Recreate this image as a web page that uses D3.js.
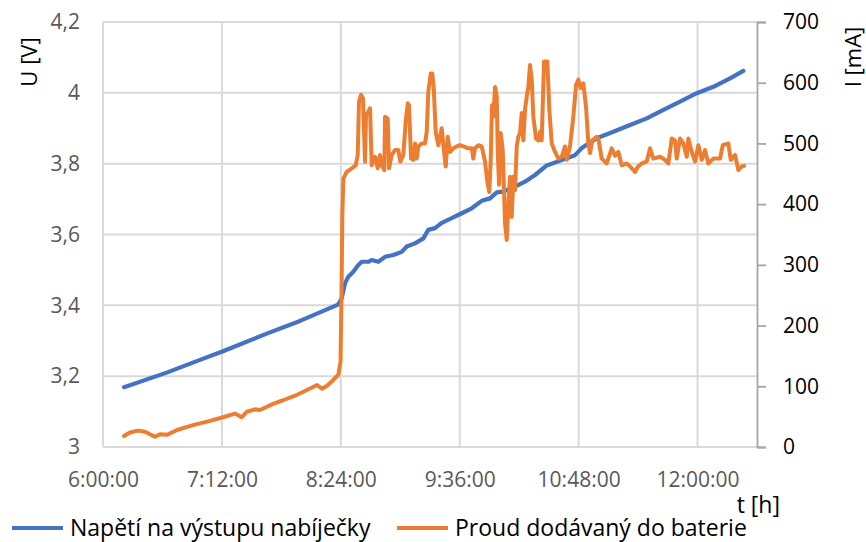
<!DOCTYPE html>
<html>
<head>
<meta charset="utf-8">
<script src="https://cdn.jsdelivr.net/npm/d3@7"></script>
<style>
  body { margin: 0; background: #fff; }
  svg text { font-family: "Open Sans", sans-serif; }
</style>
</head>
<body>
<svg id="chart" width="866" height="542"></svg>
<script>
// ---- data -------------------------------------------------------------
const xDomain = ["6:00:00", "12:36:00"];
const xTicks = ["6:00:00", "7:12:00", "8:24:00", "9:36:00", "10:48:00", "12:00:00"];
const uTicks = [3, 3.2, 3.4, 3.6, 3.8, 4, 4.2];
const iTicks = [0, 100, 200, 300, 400, 500, 600, 700];
const seriesNames = ["Napětí na výstupu nabíječky", "Proud dodávaný do baterie"];

// charger output voltage [V]
const voltTime = [
  "6:12:43","6:38:34","6:58:44","7:11:53","7:39:08","7:59:17","8:22:18","8:24:25",
  "8:26:32","8:28:33","8:31:34","8:34:36","8:36:40","8:40:39","8:42:43","8:46:43",
  "8:50:46","8:55:47","9:00:53","9:03:54","9:08:56","9:13:58","9:16:59","9:21:02",
  "9:25:06","9:31:10","9:37:13","9:43:16","9:49:19","9:54:21","9:58:25","10:02:24",
  "10:09:29","10:15:32","10:21:36","10:28:41","10:37:46","10:45:49","10:49:53","10:58:58",
  "11:09:01","11:19:07","11:29:14","11:39:18","11:49:24","11:59:31","12:09:34","12:19:41",
  "12:27:44"
];
const voltValue = [
  3.169,3.210,3.246,3.269,3.320,3.356,3.402,3.418,
  3.462,3.481,3.495,3.514,3.523,3.523,3.528,3.523,
  3.537,3.542,3.551,3.566,3.575,3.589,3.613,3.618,
  3.633,3.646,3.660,3.674,3.695,3.702,3.719,3.721,
  3.735,3.749,3.768,3.795,3.810,3.824,3.844,3.872,
  3.890,3.909,3.928,3.952,3.975,3.999,4.017,4.041,
  4.062
];

// charging current into the battery [mA]
const currTime = [
  "6:12:43","6:16:21","6:21:12","6:25:26","6:31:29","6:34:31","6:38:45","6:44:49",
  "6:54:30","7:04:48","7:12:40","7:19:56","7:23:59","7:27:01","7:32:03","7:35:04",
  "7:42:57","7:49:00","7:57:29","8:03:32","8:09:35","8:12:37","8:15:39","8:19:17",
  "8:22:29","8:23:49","8:24:25","8:24:55","8:25:31","8:27:34","8:30:36","8:33:01",
  "8:34:14","8:35:01","8:36:14","8:37:26","8:38:39","8:39:15","8:40:39","8:41:41",
  "8:42:43","8:44:43","8:46:21","8:47:44","8:48:46","8:50:20","8:50:46","8:52:24",
  "8:53:11","8:54:49","8:56:49","8:58:49","9:00:02","9:01:51","9:03:18","9:04:31",
  "9:05:18","9:06:31","9:07:54","9:08:56","9:09:58","9:10:56","9:12:59","9:14:59",
  "9:16:01","9:16:59","9:18:26","9:19:25","9:20:15","9:21:28","9:23:02","9:25:06",
  "9:26:04","9:27:31","9:28:44","9:30:08","9:32:07","9:34:11","9:36:11","9:38:11",
  "9:41:13","9:43:16","9:44:14","9:45:16","9:47:16","9:49:19","9:51:19","9:52:43",
  "9:53:56","9:54:46","9:55:34","9:56:21","9:57:23","9:58:25","9:59:01","9:59:48",
  "10:00:50","10:02:02","10:03:26","10:04:28","10:05:26","10:06:28","10:07:29","10:08:28",
  "10:09:29","10:10:31","10:11:29","10:12:31","10:13:32","10:14:31","10:15:32","10:16:34",
  "10:17:32","10:18:34","10:19:36","10:20:34","10:22:12","10:23:36","10:24:38","10:25:39",
  "10:27:03","10:29:03","10:30:16","10:31:43","10:33:43","10:35:43","10:37:46","10:39:46",
  "10:40:47","10:42:47","10:44:47","10:46:26","10:47:49","10:49:16","10:50:50","10:52:29",
  "10:53:53","10:54:54","10:56:17","10:58:58","10:59:55","11:01:59","11:05:01","11:08:02",
  "11:10:02","11:12:02","11:14:06","11:17:08","11:19:07","11:22:09","11:23:58","11:26:13",
  "11:29:14","11:31:14","11:33:14","11:37:17","11:40:19","11:42:19","11:44:23","11:46:22",
  "11:47:24","11:49:24","11:51:24","11:53:28","11:54:26","11:56:29","11:58:29","12:00:29",
  "12:02:33","12:04:32","12:06:32","12:09:34","12:13:37","12:15:16","12:18:39","12:20:06",
  "12:22:43","12:24:43","12:26:46","12:28:10"
];
const currValue = [
  18,24,27,25,17,21,20,28,
  36,43,49,55,49,58,62,61,
  71,77,86,94,102,96,101,110,
  119,140,250,380,442,453,459,464,
  481,569,580,574,470,547,552,558,
  464,478,459,481,464,456,544,541,
  459,481,489,489,470,481,536,566,
  563,475,473,500,475,495,500,500,
  519,585,615,615,591,519,497,525,
  497,462,511,486,492,495,497,495,
  492,492,475,492,497,495,470,437,
  420,473,563,544,593,577,489,432,
  517,489,368,341,400,445,379,445,
  423,495,511,517,550,505,555,577,
  593,629,605,544,508,505,519,505,
  635,635,555,500,486,475,478,495,
  473,495,544,596,605,591,599,560,
  500,484,505,511,508,475,467,492,
  480,486,464,467,462,453,462,467,
  470,492,475,478,473,467,508,505,
  475,508,500,478,508,486,470,497,
  473,489,467,475,475,497,500,473,
  481,456,462,463
];

// ---- helpers ----------------------------------------------------------
const toMin = s => { const p = s.split(":").map(Number); return p[0] * 60 + p[1] + (p[2] || 0) / 60; };
const fmtComma = d => (Math.round(d * 10) / 10).toString().replace(".", ",");

const colors = ["#4472C4", "#ED7D31"];
const plot = { left: 103, right: 757, top: 22, bottom: 447 };

const svg = d3.select("#chart");

const x = d3.scaleLinear().domain(xDomain.map(toMin)).range([plot.left, plot.right]);
const yU = d3.scaleLinear().domain([3, 4.2]).range([plot.bottom, plot.top]);
const yI = d3.scaleLinear().domain([0, 700]).range([plot.bottom, plot.top]);

// ---- gridlines ----------------------------------------------------------
const grid = svg.append("g").attr("stroke", "#d9d9d9").attr("stroke-width", 2);
grid.selectAll("line.h").data(uTicks).join("line")
  .attr("x1", plot.left).attr("x2", plot.right)
  .attr("y1", d => yU(d)).attr("y2", d => yU(d));
grid.selectAll("line.v").data(xTicks).join("line")
  .attr("x1", d => x(toMin(d))).attr("x2", d => x(toMin(d)))
  .attr("y1", plot.top).attr("y2", plot.bottom);

// ---- axes ---------------------------------------------------------------
const axisLeft = d3.axisLeft(yU).tickValues(uTicks).tickFormat(fmtComma)
  .tickSize(0).tickPadding(23);
const gL = svg.append("g").attr("transform", `translate(${plot.left},0)`).call(axisLeft);
gL.select(".domain").remove();
gL.selectAll("text").attr("fill", "#595959").attr("font-size", 21)
  .attr("font-family", "Open Sans, sans-serif");

const axisBottom = d3.axisBottom(x).tickValues(xTicks.map(toMin))
  .tickFormat((d, i) => xTicks[i]).tickSize(0).tickPadding(25);
const gB = svg.append("g").attr("transform", `translate(0,${plot.bottom})`).call(axisBottom);
gB.select(".domain").remove();
gB.selectAll("text").attr("fill", "#595959").attr("font-size", 21)
  .attr("font-family", "Open Sans, sans-serif");

const axisRight = d3.axisRight(yI).tickValues(iTicks).tickSize(9).tickPadding(17);
const gR = svg.append("g").attr("transform", `translate(${plot.right},0)`).call(axisRight);
gR.select(".domain").attr("stroke", "#a6a6a6").attr("stroke-width", 1.8);
gR.selectAll(".tick line").attr("stroke", "#a6a6a6").attr("stroke-width", 1.8);
gR.selectAll("text").attr("fill", "#000").attr("font-size", 21)
  .attr("font-family", "Open Sans, sans-serif");

// axis titles
svg.append("text").attr("transform", "translate(37,62) rotate(-90)")
  .attr("text-anchor", "middle").attr("font-size", 22).attr("fill", "#000").text("U [V]");
svg.append("text").attr("transform", "translate(861,57) rotate(-90)")
  .attr("text-anchor", "middle").attr("font-size", 22).attr("fill", "#000").text("I [mA]");
svg.append("text").attr("x", 780).attr("y", 513)
  .attr("text-anchor", "end").attr("font-size", 23).attr("fill", "#000").text("t [h]");

// ---- series -------------------------------------------------------------
const voltData = voltTime.map((t, i) => ({ t: toMin(t), v: voltValue[i] }));
const currData = currTime.map((t, i) => ({ t: toMin(t), v: currValue[i] }));

svg.append("path").datum(voltData)
  .attr("fill", "none").attr("stroke", colors[0]).attr("stroke-width", 4.2)
  .attr("stroke-linejoin", "round").attr("stroke-linecap", "round")
  .attr("d", d3.line().x(d => x(d.t)).y(d => yU(d.v)));

svg.append("path").datum(currData)
  .attr("fill", "none").attr("stroke", colors[1]).attr("stroke-width", 4)
  .attr("stroke-linejoin", "round").attr("stroke-linecap", "round")
  .attr("d", d3.line().x(d => x(d.t)).y(d => yI(d.v)));

// ---- legend -------------------------------------------------------------
const legendX = [12, 397];
const lg = svg.append("g");
seriesNames.forEach((name, i) => {
  lg.append("line").attr("x1", legendX[i]).attr("x2", legendX[i] + 51)
    .attr("y1", 528).attr("y2", 528)
    .attr("stroke", colors[i]).attr("stroke-width", 3.8);
  lg.append("text").attr("x", legendX[i] + 58).attr("y", 536)
    .attr("font-size", 23).attr("fill", "#000").text(name);
});
</script>
</body>
</html>
